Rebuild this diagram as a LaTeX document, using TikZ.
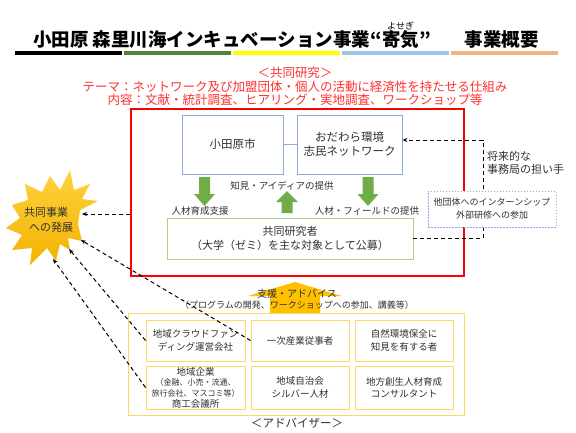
\documentclass[tikz,border=0pt]{standalone}
\usepackage{fontspec}
\setmainfont{Noto Sans CJK JP}
\usetikzlibrary{arrows.meta}
\definecolor{boxblue}{HTML}{8EA9DB}
\definecolor{boxgreen}{HTML}{A9D08E}
\definecolor{arrgreen}{HTML}{70AD47}
\definecolor{arrorange}{HTML}{FFC000}
\definecolor{boxyellow}{HTML}{FFD966}
\definecolor{redtxt}{HTML}{FF3030}
\definecolor{txtc}{HTML}{303030}
\definecolor{bargreen}{HTML}{548235}
\definecolor{baryellow}{HTML}{FFFF00}
\definecolor{barblue}{HTML}{9DC3E6}
\definecolor{barorange}{HTML}{F4B183}
\definecolor{startop}{HTML}{FFD23F}
\definecolor{starbot}{HTML}{F2B200}
\newcommand\fsz[2]{\fontsize{#1pt}{#2pt}\selectfont}
\tikzset{
  basebox/.style={draw, fill=white, inner sep=0pt, align=center, text=txtc, line width=0.9pt},
  bluebox/.style={basebox, draw=boxblue, font=\fsz{11.5}{14}},
  greenbox/.style={basebox, draw=boxgreen, font=\fsz{11}{14}},
  ybox/.style={basebox, draw=boxyellow, font=\fsz{9.5}{12.5}, minimum height=41pt},
  lbl/.style={inner sep=0pt, text=txtc, align=center},
  dasharrow/.style={draw=black, dash pattern=on 4pt off 3pt, line width=1pt, -{Stealth[length=5pt,width=4pt]}},
  bararrow/.style={line width=4pt}
}
\begin{document}
\begin{tikzpicture}[x=1pt,y=-1pt]
\useasboundingbox (0,0) rectangle (576,432);
% title
\node[anchor=west, inner sep=0pt, font=\fsz{18.5}{20}\bfseries] (t1) at (33,40) {小田原 森里川海インキュベーション事業};
\node[anchor=west, inner sep=0pt, font=\fsz{18.5}{20}\bfseries] (t2) at (t1.east) {“寄気”};
\node[anchor=south, inner sep=0pt, font=\fsz{9}{10}] (ruby) at ([yshift=1pt]t2.north) {よせぎ};
\node[anchor=east, inner sep=0pt, font=\fsz{18.5}{20}\bfseries] (t3) at (539,40) {事業概要};
% colour bar
\draw[bararrow, black] (15,53) -- (122,53);
\draw[bararrow, bargreen] (124,53) -- (231,53);
\draw[bararrow, baryellow] (233,53) -- (340,53);
\draw[bararrow, barblue] (342,53) -- (449,53);
\draw[bararrow, barorange] (451,53) -- (558,53);
% red text
\node[inner sep=0pt, align=center, text=redtxt, font=\fsz{12.5}{13.7}] (theme) at (295,86.5)
  {＜共同研究＞\\テーマ：ネットワーク及び加盟団体・個人の活動に経済性を持たせる仕組み\\内容：文献・統計調査、ヒアリング・実地調査、ワークショップ等};
% star
\shade[top color=startop, bottom color=starbot] (70,170) -- (74,190) -- (90,184) -- (82,199) -- (98,201) -- (80,210) -- (78,224) -- (82,241) -- (68,238) -- (70,250) -- (60,244) -- (56,261) -- (47,248) -- (30,265) -- (32,248) -- (12,250) -- (22,235) -- (6,228) -- (20,218) -- (12,205) -- (28,200) -- (25,184) -- (42,192) -- (50,176) -- (60,190) -- cycle;
\node[lbl, anchor=west, align=left, font=\fsz{11}{15}] (star) at (24,220) {共同事業\\\hspace{5pt}への発展};
\coordinate (s1) at (82,214);
\coordinate (s2) at (81,240);
\coordinate (s3) at (69,249);
\coordinate (s4) at (53,259);
% red box
\node[draw=red, line width=1.8pt, minimum width=333pt, minimum height=167pt, inner sep=0pt] (redbox) at (297.5,192.5) {};
\node[bluebox, minimum width=101pt, minimum height=59pt] (city) at (232.5,144.5) {小田原市};
\node[bluebox, minimum width=105pt, minimum height=59pt] (net) at (349.5,144.5) {おだわら環境\\志民ネットワーク};
\draw[boxblue, line width=0.9pt] (city.east) -- (net.west);
\node[greenbox, minimum width=246pt, minimum height=41pt] (kenkyu) at (290,238.5) {共同研究者\\（大学（ゼミ）を主な対象として公募）};
% green block arrows
\fill[arrgreen] (199,177) -- (210,177) -- (210,194) -- (215,194) -- (204.5,206) -- (194,194) -- (199,194) -- cycle;
\fill[arrgreen] (281.5,213) -- (292.5,213) -- (292.5,202) -- (298,202) -- (287,191) -- (276,202) -- (281.5,202) -- cycle;
\fill[arrgreen] (362.5,177) -- (373.5,177) -- (373.5,194) -- (378.5,194) -- (368,206) -- (357.5,194) -- (362.5,194) -- cycle;
\node[lbl, font=\fsz{9.5}{11}] (chiken) at (282,186) {知見・アイディアの提供};
\node[lbl, font=\fsz{9.5}{11}] (ikusei) at (200,211) {人材育成支援};
\node[lbl, font=\fsz{9.5}{11}] (field) at (367,211) {人材・フィールドの提供};
% right dashed connector
\coordinate (rt) at (483,140);
\draw[dasharrow] (kenkyu.east) -| (rt) -- ([yshift=4.5pt]net.east);
\node[lbl, anchor=north west, align=left, font=\fsz{11}{13}] (shorai) at (487,151) {将来的な\\事務局の担い手};
\node[basebox, draw=boxblue, dash pattern=on 1.5pt off 1.5pt, line width=0.8pt, minimum width=128pt, minimum height=36pt, font=\fsz{9}{13}] (tadan) at (492,209) {他団体へのインターンシップ\\外部研修への参加};
% orange arrow
\fill[arrorange] (270,313) -- (320,313) -- (320,296) -- (342,296) -- (295,282) -- (248,296) -- (270,296) -- cycle;
\node[lbl, font=\fsz{10}{11}] (shien) at (297,294) {支援・アドバイス};
\node[lbl, font=\fsz{9}{10}] (prog) at (297,305.5) {（プログラムの開発、ワークショップへの参加、講義等）};
% advisers
\node[draw=boxyellow, line width=0.9pt, minimum width=336pt, minimum height=102pt, inner sep=0pt] (outer) at (296,364) {};
\node[ybox, minimum width=99pt] (crowd) at (195.5,340.5) {地域クラウドファン\\ディング運営会社};
\node[ybox, minimum width=98pt] (ichiji) at (300,340.5) {一次産業従事者};
\node[ybox, minimum width=98pt] (shizen) at (404,340.5) {自然環境保全に\\知見を有する者};
\node[ybox, minimum width=99pt, minimum height=43pt, font=\fsz{8}{10.7}] (kigyo) at (195.5,387.5) {{\fsz{9.5}{10.7}地域企業}\\（金融、小売・流通、\\旅行会社、マスコミ等）\\{\fsz{9.5}{10.7}商工会議所}};
\node[ybox, minimum width=98pt, minimum height=43pt] (jichi) at (300,387.5) {地域自治会\\シルバー人材};
\node[ybox, minimum width=98pt, minimum height=43pt] (chiho) at (404,387.5) {地方創生人材育成\\コンサルタント};
\node[lbl, font=\fsz{11.5}{13}] (adv) at (297,423) {＜アドバイザー＞};
% dashed arrows to star
\draw[dasharrow] ([yshift=-21.5pt]redbox.west) -- (s1);
\draw[dasharrow] (ichiji.west) -- (s2);
\draw[dasharrow] (crowd.west) -- (s3);
\draw[dasharrow] (kigyo.west) -- (s4);
\end{tikzpicture}
\end{document}
